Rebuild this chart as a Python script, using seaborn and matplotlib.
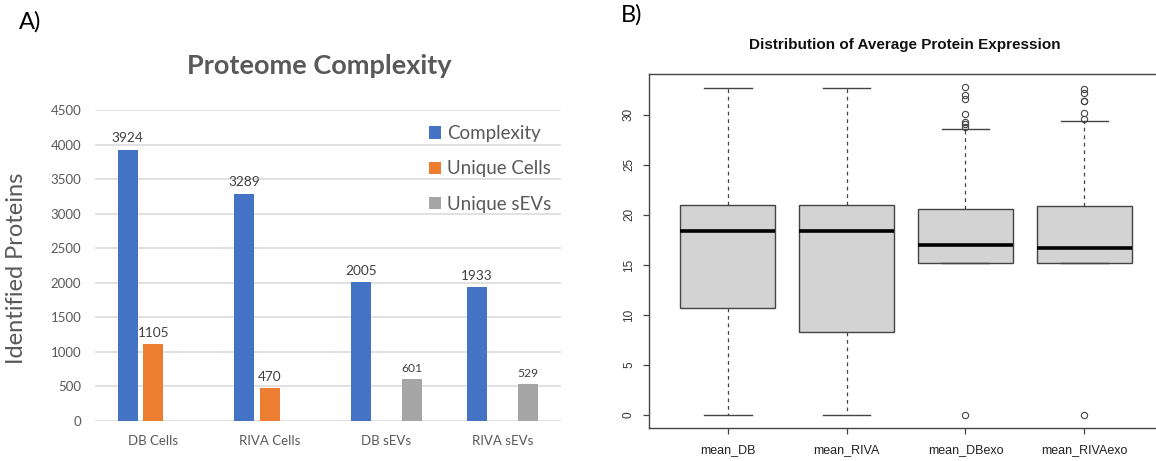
import numpy as np
import pandas as pd
import matplotlib
matplotlib.use("Agg")
import matplotlib.pyplot as plt
from matplotlib.patches import Patch
import seaborn as sns

# ---- Panel A: proteome complexity (identified protein counts) ----
samples = ["DB Cells", "RIVA Cells", "DB sEVs", "RIVA sEVs"]
complexity = [3924, 3289, 2005, 1933]
unique_cells = [1105, 470, np.nan, np.nan]
unique_sevs = [np.nan, np.nan, 601, 529]
series_names = ["Complexity", "Unique Cells", "Unique sEVs"]
series_colors = ["#4472C4", "#ED7D31", "#A5A5A5"]
count_ticks = [0, 500, 1000, 1500, 2000, 2500, 3000, 3500, 4000, 4500]

# ---- Panel B: box-plot summaries of mean protein expression ----
groups = ["mean_DB", "mean_RIVA", "mean_DBexo", "mean_RIVAexo"]
whisker_low = [0.0, 0.0, 15.17, 15.17]
quartile_1 = [10.68, 8.28, 15.17, 15.17]
medians = [18.36, 18.36, 17.0, 16.73]
quartile_3 = [20.99, 20.99, 20.56, 20.86]
whisker_high = [32.7, 32.7, 28.58, 29.4]
outliers = [
    [],
    [],
    [32.73, 31.92, 31.54, 30.04, 29.3, 29.04, 28.8, 0.0],
    [32.53, 32.2, 31.4, 31.35, 30.14, 29.54, 0.0],
]
expr_ticks = [0, 5, 10, 15, 20, 25, 30]

W, H = 1156, 461
fig = plt.figure(figsize=(W / 100, H / 100), dpi=100)
fig.patch.set_facecolor("white")

def px_axes(x0, y0, x1, y1):
    return fig.add_axes([x0 / W, 1 - y1 / H, (x1 - x0) / W, (y1 - y0) / H])

# ----------------- Panel A -----------------
excel_font = "Lato"
txt_grey = "#595959"
ax1 = px_axes(95, 110, 561, 420.7)

df = pd.DataFrame({
    "sample": samples * 3,
    "series": np.repeat(series_names, len(samples)),
    "count": complexity + unique_cells + unique_sevs,
})
sns.barplot(data=df, x="sample", y="count", hue="series", order=samples,
            hue_order=series_names, palette=series_colors, saturation=1,
            width=0.657, gap=0.215, errorbar=None, ax=ax1, legend=False)

ax1.set_ylim(0, 4500)
ax1.set_xlim(-0.5, 3.5)
ax1.set_yticks(count_ticks)
ax1.set_xlabel("")
ax1.set_ylabel("")
for s in ax1.spines.values():
    s.set_visible(False)
ax1.yaxis.grid(True, color="#D9D9D9", linewidth=1.1)
ax1.set_axisbelow(True)
ax1.tick_params(axis="both", length=0, labelcolor=txt_grey)
ax1.tick_params(axis="y", pad=10)
ax1.tick_params(axis="x", pad=10)
for lab in ax1.get_yticklabels() + ax1.get_xticklabels():
    lab.set_fontfamily(excel_font)
    lab.set_fontsize(9.5)

for cont, size in zip(ax1.containers, [9.8, 9.8, 8.7]):
    ax1.bar_label(cont, fmt="%d", padding=4, fontsize=size,
                  family=excel_font, color="#404040")

handles = [Patch(facecolor=c, edgecolor="none") for c in series_colors]
ax1.legend(handles, series_names, loc="upper left",
           bbox_to_anchor=(429.3 / W, 1 - 125 / H), bbox_transform=fig.transFigure,
           frameon=False, borderpad=0, borderaxespad=0,
           prop={"family": excel_font, "size": 13.5}, labelcolor=txt_grey,
           handlelength=0.64, handleheight=0.64, handletextpad=0.3,
           labelspacing=0.98)

fig.text(319 / W, 1 - 65.7 / H, "Proteome Complexity", ha="center", va="center",
         fontsize=19.5, fontweight="bold", family=excel_font, color=txt_grey)
fig.text(17 / W, 1 - 268 / H, "Identified Proteins", ha="center", va="center",
         rotation=90, fontsize=17, family=excel_font, color=txt_grey)
fig.text(19 / W, 1 - 22 / H, "A)", ha="left", va="center", fontsize=17,
         family=excel_font, color="black")

# ----------------- Panel B -----------------
r_font = "Liberation Sans"
line_col = "#444444"
ax2 = px_axes(649.3, 74, 1162.8, 428.3)

stats = []
for i, g in enumerate(groups):
    stats.append(dict(label=g, whislo=whisker_low[i], q1=quartile_1[i],
                      med=medians[i], q3=quartile_3[i], whishi=whisker_high[i],
                      fliers=np.array(outliers[i])))

ax2.bxp(stats, positions=[1, 2, 3, 4], widths=0.8, capwidths=0.4,
        patch_artist=True, showfliers=True,
        boxprops=dict(facecolor="#D3D3D3", edgecolor=line_col, linewidth=1.0),
        medianprops=dict(color="black", linewidth=2.6, solid_capstyle="butt"),
        whiskerprops=dict(color=line_col, linestyle=(0, (3, 3)), linewidth=0.9),
        capprops=dict(color=line_col, linewidth=1.0),
        flierprops=dict(marker="o", markerfacecolor="none",
                        markeredgecolor=line_col, markersize=4.5,
                        markeredgewidth=0.8, linestyle="none"))

ax2.set_xlim(0.34, 4.66)
ax2.set_ylim(-1.31, 34.06)
ax2.set_yticks(expr_ticks)
ax2.set_yticklabels([str(t) for t in expr_ticks], rotation=90, va="center",
                    family=r_font, fontsize=8.5, color="#333333")
ax2.set_xticks([1, 2, 3, 4])
ax2.set_xticklabels(groups, family=r_font, fontsize=9, color="#222222")
for s in ax2.spines.values():
    s.set_color(line_col)
    s.set_linewidth(1.0)
ax2.tick_params(axis="both", direction="out", length=4.3, width=0.9,
                color=line_col)
ax2.tick_params(axis="y", pad=6)
ax2.tick_params(axis="x", pad=7)
ax2.set_facecolor("white")

fig.text(904.7 / W, 1 - 45 / H, "Distribution of Average Protein Expression",
         ha="center", va="center", fontsize=11, fontweight="bold",
         family=r_font, color="#111111")
fig.text(620.5 / W, 1 - 15 / H, "B)", ha="left", va="center", fontsize=17,
         family=excel_font, color="black")

fig.savefig("out.png", dpi=100, facecolor="white")
